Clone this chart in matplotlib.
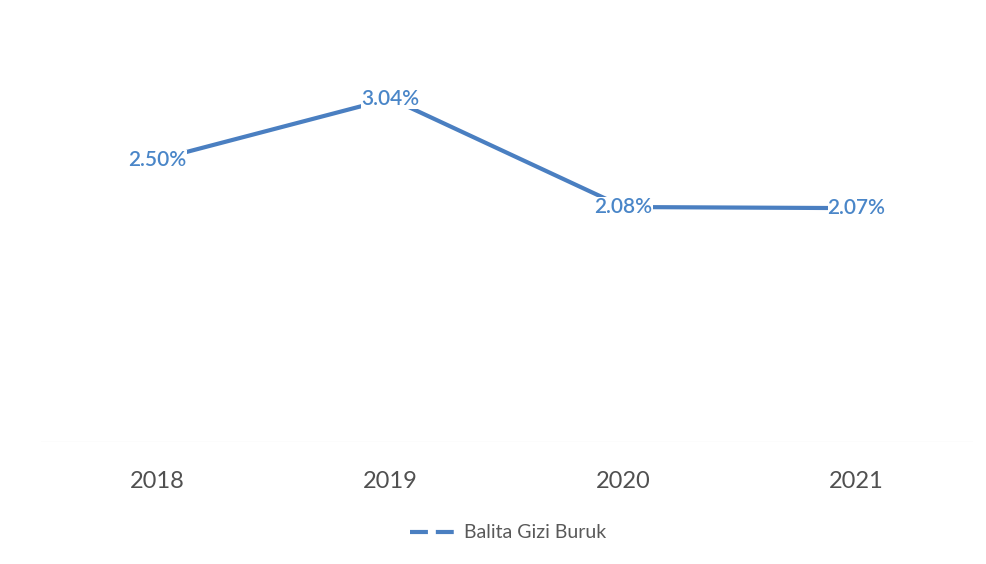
import matplotlib
matplotlib.use("Agg")
import matplotlib.pyplot as plt
from matplotlib.lines import Line2D

years = ["2018", "2019", "2020", "2021"]
values = [2.50, 3.04, 2.08, 2.07]
labels = ["2.50%", "3.04%", "2.08%", "2.07%"]
series_name = "Balita Gizi Buruk"

plt.rcParams['font.family'] = ['Lato', 'DejaVu Sans']

fig = plt.figure(figsize=(9.86, 5.64), dpi=100)
ax = fig.add_axes([41/986, 1 - 442/564, 932/986, (442 - 24)/564])

line_color = "#4a7fc1"
label_color = "#4a86c8"
x = list(range(len(years)))
ax.plot(x, values, color=line_color, lw=3, solid_capstyle="round", zorder=2)
for xi, v, t in zip(x, values, labels):
    ax.text(xi, v, t, ha="center", va="center", fontsize=15, fontweight="semibold",
            color=label_color, zorder=3,
            bbox=dict(boxstyle="square,pad=0.0", fc="white", ec="none"))

ax.set_xlim(-0.5, 3.5)
ax.set_ylim(0, 3.7)
ax.set_yticks([])
ax.set_xticks(x)
ax.set_xticklabels(years, fontsize=17, color="#505050")
ax.tick_params(axis="x", length=0, pad=21)
for s in ax.spines.values():
    s.set_visible(False)
ax.axhline(0, color="#f2f2f2", lw=1, zorder=1)

handle = Line2D([], [], color=line_color, lw=3, linestyle=(0, (4.3, 1.9)))
fig.legend([handle], [series_name], loc="center", bbox_to_anchor=(508/986, 1 - 533/564),
           frameon=False, fontsize=14, labelcolor="#595959", handlelength=2.5,
           handletextpad=0.3)

fig.savefig("out.png", dpi=100, facecolor="white")
